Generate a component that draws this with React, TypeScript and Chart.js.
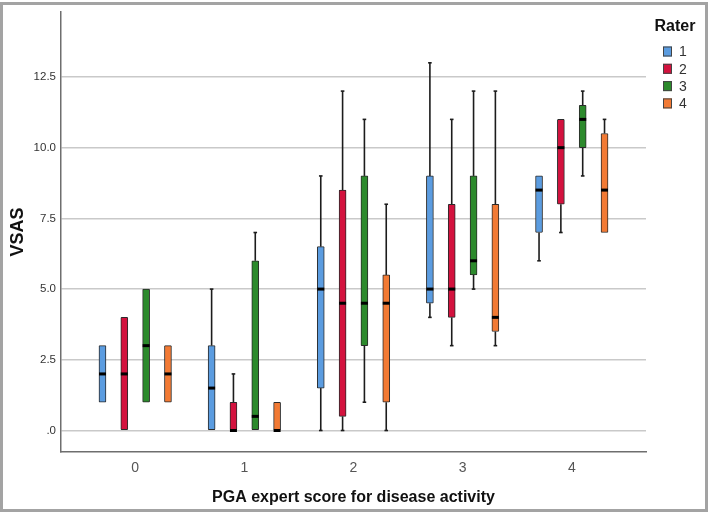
import React, { useEffect, useRef } from "react";
import { Chart, registerables } from "chart.js";

Chart.register(...registerables);

// PGA expert score categories
const categories = [0, 1, 2, 3, 4];
const yTicks = [0, 2.5, 5, 7.5, 10, 12.5];
const raterLabels = ["1", "2", "3", "4"];
const raterColors = ["#5b9ce0", "#d3123e", "#2c8a2c", "#f27a34"];

// per category: [min, q1, median, q3, max]
const rater1 = [[1, 1, 2, 3, 3], [0, 0, 1.5, 3, 5], [0, 1.5, 5, 6.5, 9], [4, 4.5, 5, 9, 13], [6, 7, 8.5, 9, 9]];
const rater2 = [[0, 0, 2, 4, 4], [0, 0, 0, 1, 2], [0, 0.5, 4.5, 8.5, 12], [3, 4, 5, 8, 11], [7, 8, 10, 11, 11]];
const rater3 = [[1, 1, 3, 5, 5], [0, 0, 0.5, 6, 7], [1, 3, 4.5, 9, 11], [5, 5.5, 6, 9, 12], [9, 10, 11, 11.5, 12]];
const rater4 = [[1, 1, 2, 3, 3], [0, 0, 0, 1, 1], [0, 1, 4.5, 5.5, 8], [3, 3.5, 4, 8, 12], [7, 7, 8.5, 10.5, 11]];

const raterStats = [rater1, rater2, rater3, rater4];

const FONT = "'Liberation Sans', Arial, Helvetica, sans-serif";
const BOX_W = 7;
const offsetOf = (i: number) => (i - 1.5) * 0.2;

const whiskerPlugin = {
  id: "boxWhiskers",
  beforeDatasetsDraw(chart: any) {
    const { ctx, scales } = chart;
    const x = scales.x;
    const y = scales.y;
    ctx.save();
    ctx.strokeStyle = "#1c1c1c";
    ctx.lineWidth = 1.6;
    raterStats.forEach((stats, i) => {
      stats.forEach((s, j) => {
        const px = x.getPixelForValue(categories[j] + offsetOf(i));
        const [mn, q1, , q3, mx] = s;
        const seg = (a: number, b: number) => {
          ctx.beginPath();
          ctx.moveTo(px, y.getPixelForValue(a));
          ctx.lineTo(px, y.getPixelForValue(b));
          ctx.stroke();
          ctx.beginPath();
          ctx.moveTo(px - 1.8, y.getPixelForValue(a));
          ctx.lineTo(px + 1.8, y.getPixelForValue(a));
          ctx.stroke();
        };
        if (mn < q1) seg(mn, q1);
        if (mx > q3) seg(mx, q3);
      });
    });
    ctx.restore();
  },
  afterDatasetsDraw(chart: any) {
    const { ctx, scales } = chart;
    const x = scales.x;
    const y = scales.y;
    ctx.save();
    ctx.strokeStyle = "#000000";
    ctx.lineWidth = 3;
    raterStats.forEach((stats, i) => {
      stats.forEach((s, j) => {
        const px = x.getPixelForValue(categories[j] + offsetOf(i));
        const py = y.getPixelForValue(s[2]);
        ctx.beginPath();
        ctx.moveTo(px - BOX_W / 2, py);
        ctx.lineTo(px + BOX_W / 2, py);
        ctx.stroke();
      });
    });
    ctx.restore();
  },
};

const legendPlugin = {
  id: "raterLegend",
  afterDraw(chart: any) {
    const { ctx } = chart;
    ctx.save();
    ctx.fillStyle = "#111";
    ctx.font = `bold 16px ${FONT}`;
    ctx.textAlign = "center";
    ctx.textBaseline = "middle";
    ctx.fillText("Rater", 675, 27);
    ctx.font = `14px ${FONT}`;
    ctx.textAlign = "left";
    raterLabels.forEach((lab, i) => {
      const cy = 51.5 + i * 17.3;
      ctx.fillStyle = raterColors[i];
      ctx.fillRect(663, cy - 5, 9, 10);
      ctx.strokeStyle = "#444";
      ctx.lineWidth = 1;
      ctx.strokeRect(663.5, cy - 4.5, 8, 9);
      ctx.fillStyle = "#333";
      ctx.fillText(lab, 679, cy + 1);
    });
    ctx.restore();
  },
};

export default function App() {
  const canvasRef = useRef<HTMLCanvasElement | null>(null);

  useEffect(() => {
    const canvas = canvasRef.current;
    if (!canvas) return;
    Chart.defaults.font.family = FONT;

    const datasets = raterStats.map((stats, i) => ({
      type: "bar" as const,
      label: raterLabels[i],
      data: stats.map((s, j) => ({ x: categories[j] + offsetOf(i), y: [s[1], s[3]] })),
      backgroundColor: raterColors[i],
      borderColor: "#2a2a2a",
      borderWidth: 1,
      borderSkipped: false,
      borderRadius: 1,
      barThickness: BOX_W,
      grouped: false,
    }));

    const chart = new Chart(canvas, {
      type: "bar",
      data: { datasets },
      plugins: [whiskerPlugin, legendPlugin],
      options: {
        animation: false,
        responsive: false,
        devicePixelRatio: 1,
        layout: { padding: { left: 0, top: 10, right: 63, bottom: 0 } },
        plugins: {
          legend: { display: false },
          tooltip: { enabled: false },
        },
        scales: {
          x: {
            type: "linear",
            offset: false,
            min: -0.68,
            max: 4.68,
            afterBuildTicks: (s: any) => {
              s.ticks = categories.map((v) => ({ value: v }));
            },
            afterFit: (s: any) => {
              s.height = 62;
            },
            grid: { display: false, drawTicks: false, offset: false },
            border: { display: true, color: "#6e6e6e", width: 1.5 },
            ticks: {
              padding: 8,
              color: "#555",
              font: { size: 14 },
              callback: (v: any) => String(v),
            },
            title: {
              display: true,
              text: "PGA expert score for disease activity",
              color: "#111",
              font: { size: 16, weight: "bold" },
              padding: { top: 0, bottom: 7 },
            },
          },
          y: {
            type: "linear",
            min: -0.76,
            max: 14.8,
            afterBuildTicks: (s: any) => {
              s.ticks = yTicks.map((v) => ({ value: v }));
            },
            afterFit: (s: any) => {
              s.width = 61;
            },
            grid: { color: "#c9c9c9", lineWidth: 1.5, drawTicks: false },
            border: { display: true, color: "#6e6e6e", width: 1.5 },
            ticks: {
              padding: 5,
              color: "#333",
              font: { size: 11.5 },
              callback: (v: any) => (v === 0 ? ".0" : Number(v).toFixed(1)),
            },
            title: {
              display: true,
              text: "VSAS",
              color: "#111",
              font: { size: 18, weight: "bold" },
              padding: { top: 7, bottom: 0 },
            },
          },
        },
      } as any,
    });

    return () => chart.destroy();
  }, []);

  return (
    <div style={{ position: "absolute", left: 0, top: 0, width: 709, height: 514, background: "#fff" }}>
      <div
        style={{
          position: "absolute",
          left: 0,
          top: 2,
          width: 708,
          height: 510,
          border: "3px solid #a3a3a3",
          boxSizing: "border-box",
        }}
      />
      <canvas
        ref={canvasRef}
        width={709}
        height={514}
        style={{ position: "absolute", left: 0, top: 0, width: 709, height: 514, display: "block" }}
      />
    </div>
  );
}
